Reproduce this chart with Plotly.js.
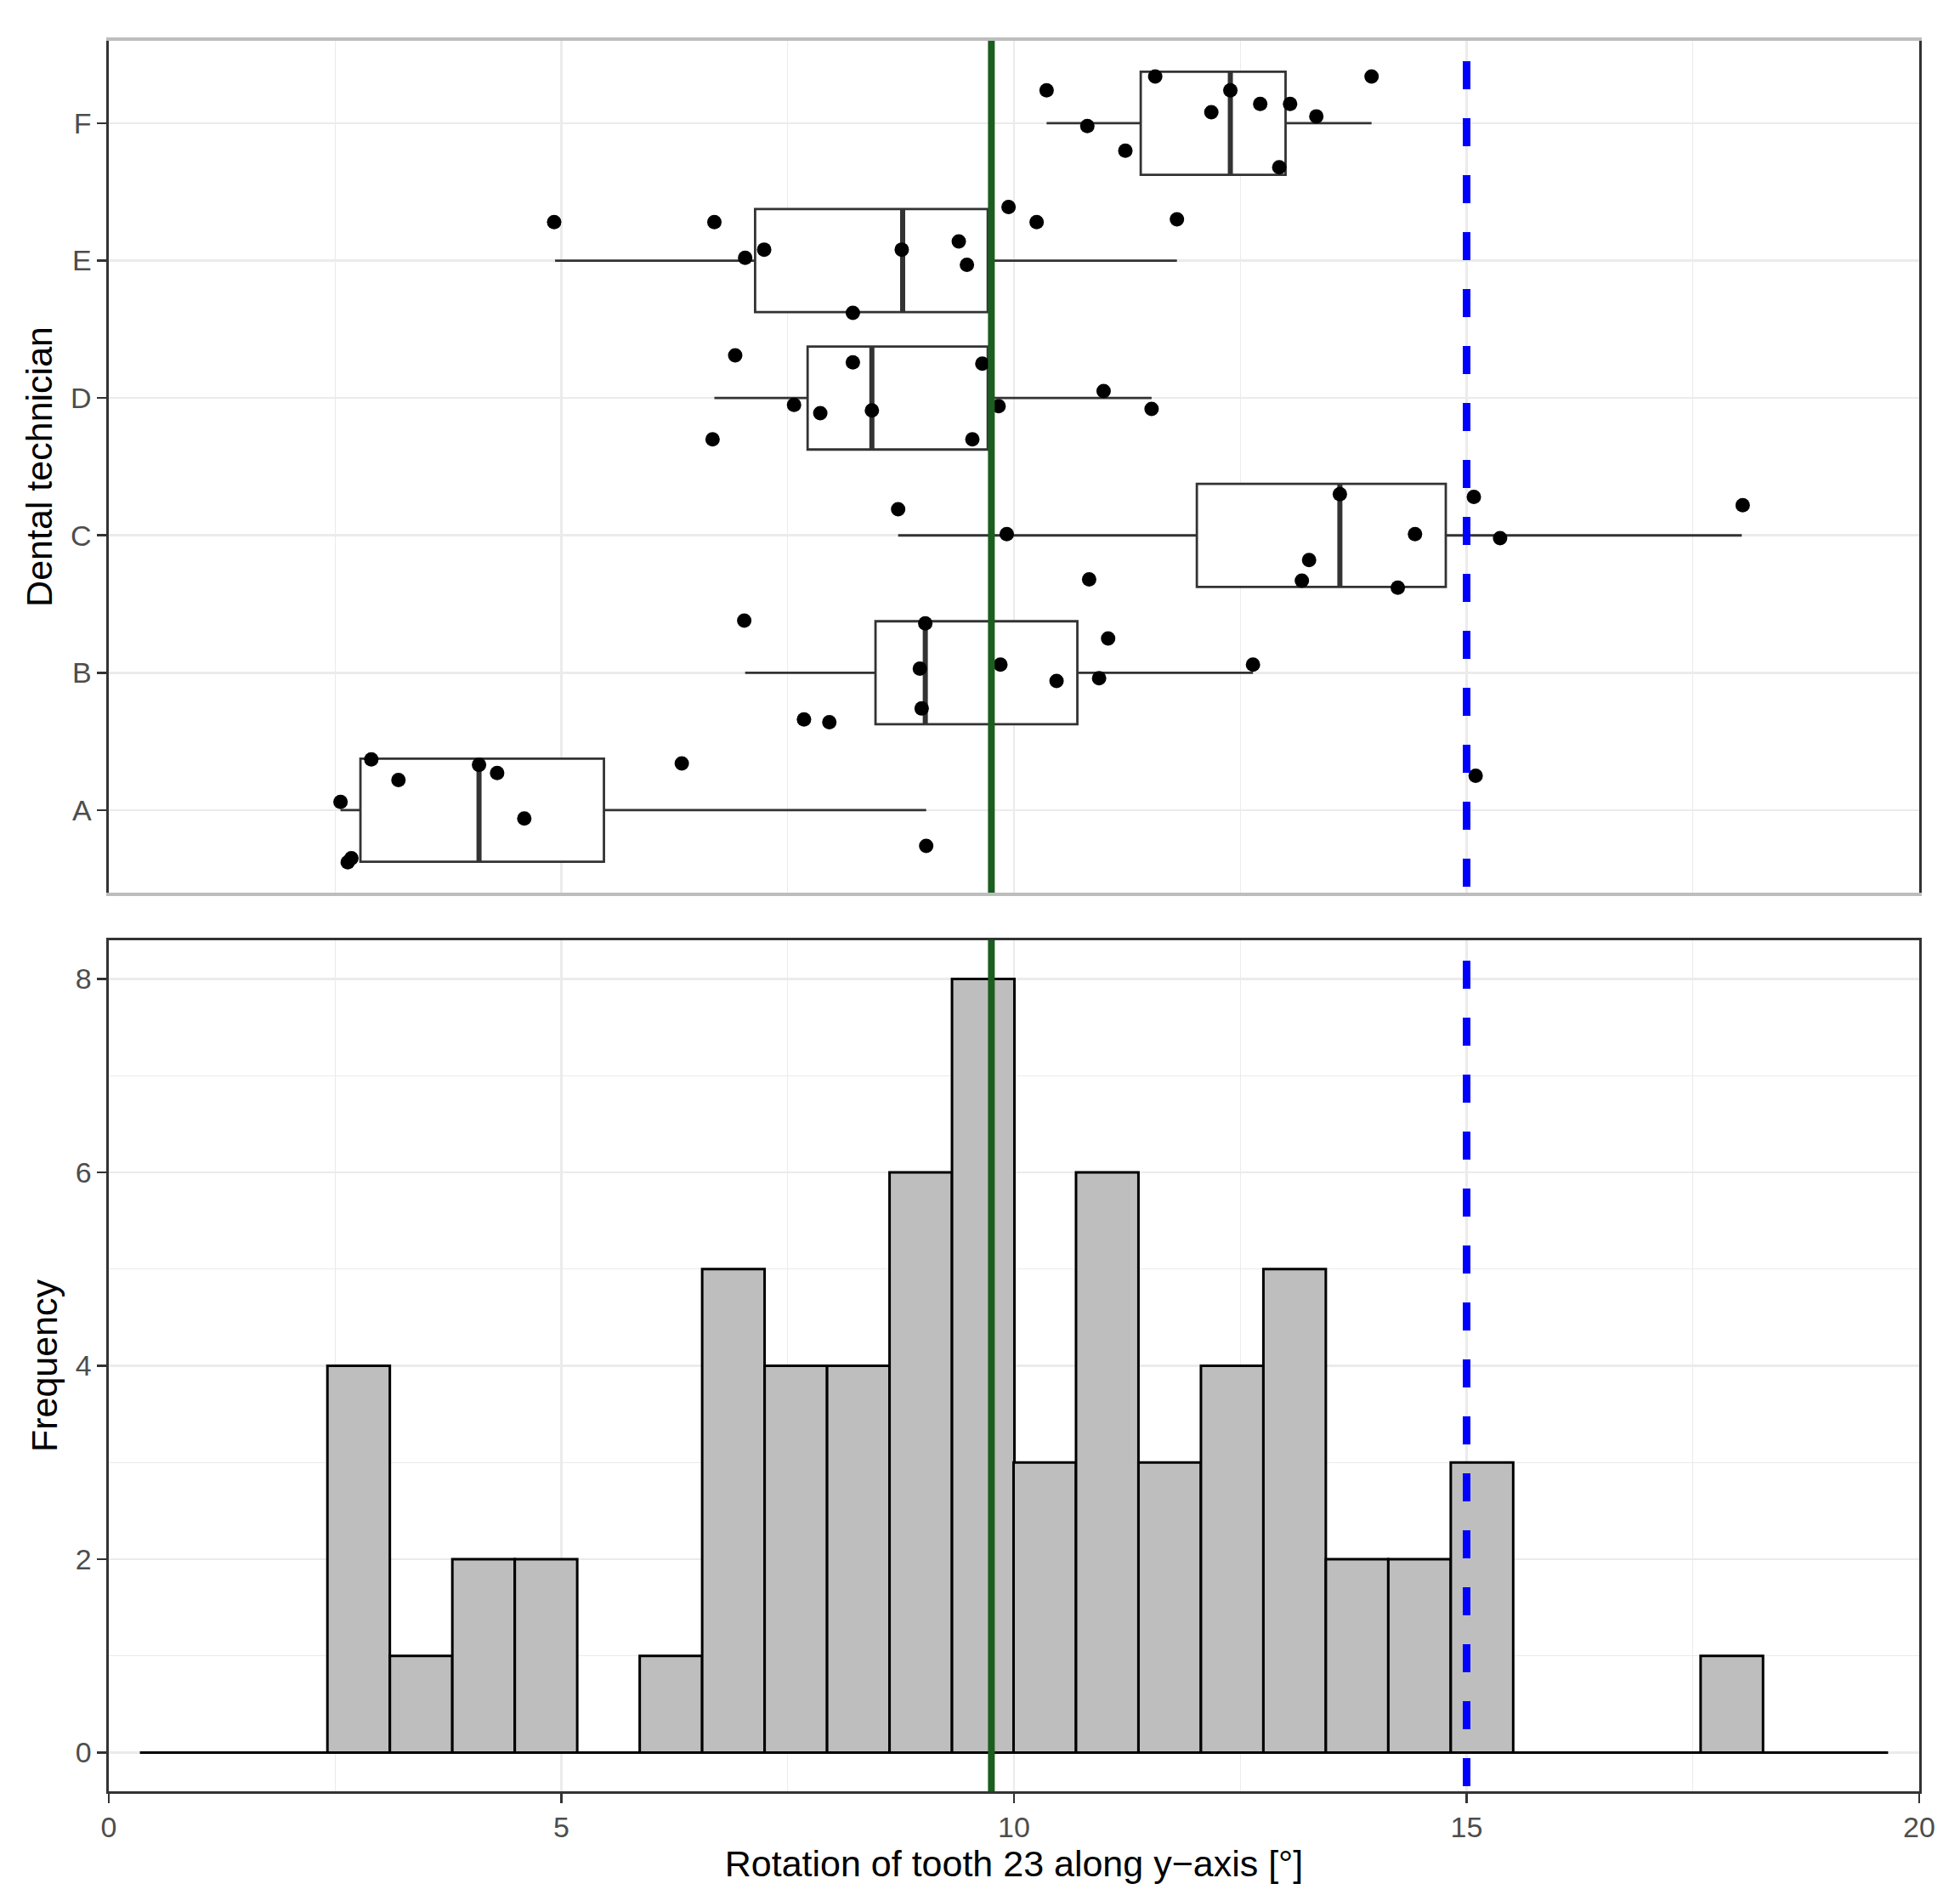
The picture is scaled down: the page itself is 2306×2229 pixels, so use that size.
<!DOCTYPE html>
<html>
<head>
<meta charset="utf-8">
<script src="https://cdn.plot.ly/plotly-3.0.1.min.js"></script>
<style>body{margin:0;background:#fff}</style>
</head>
<body>
<div id="plot" style="width:2306px;height:2229px"></div>
<script>
// technicians, bottom to top
let technicians = ["A", "B", "C", "D", "E", "F"]

// box statistics per technician
let lowerWhisker = [2.56, 7.03, 8.72, 6.69, 4.93, 10.36]
let q1 = [2.78, 8.47, 12.02, 7.72, 7.14, 11.40]
let medians = [4.09, 9.02, 13.60, 8.43, 8.77, 12.39]
let q3 = [5.47, 10.70, 14.77, 9.71, 9.71, 13.00]
let upperWhisker = [9.03, 12.64, 18.04, 11.52, 11.80, 13.95]

let rotA = [2.56, 2.64, 2.68, 2.90, 3.20, 4.09, 4.29, 4.59, 6.33, 9.03, 15.10]
let jitA = [0.06, -0.38, -0.35, 0.37, 0.22, 0.33, 0.27, -0.06, 0.34, -0.26, 0.25]
let rotB = [7.02, 7.68, 7.96, 8.96, 8.98, 9.02, 9.85, 10.47, 10.94, 11.04, 12.64]
let jitB = [0.38, -0.34, -0.36, 0.03, -0.26, 0.36, 0.06, -0.06, -0.04, 0.25, 0.06]
let rotC = [8.72, 9.92, 10.83, 13.18, 13.26, 13.60, 14.24, 14.43, 15.08, 15.37, 18.05]
let jitC = [0.19, 0.01, -0.32, -0.33, -0.18, 0.30, -0.38, 0.01, 0.28, -0.02, 0.22]
let rotD = [6.67, 6.92, 7.57, 7.86, 8.22, 8.43, 9.54, 9.65, 9.83, 10.99, 11.52]
let jitD = [-0.30, 0.31, -0.05, -0.11, 0.26, -0.09, -0.30, 0.25, -0.06, 0.05, -0.08]
let rotE = [4.92, 6.69, 7.03, 7.24, 8.22, 8.76, 9.39, 9.48, 9.94, 10.25, 11.80]
let jitE = [0.28, 0.28, 0.02, 0.08, -0.38, 0.08, 0.14, -0.03, 0.39, 0.28, 0.30]
let rotF = [10.36, 10.81, 11.23, 11.56, 12.18, 12.39, 12.72, 12.93, 13.05, 13.34, 13.95]
let jitF = [0.24, -0.02, -0.20, 0.34, 0.08, 0.24, 0.14, -0.32, 0.14, 0.05, 0.34]

// histogram bins (centres) and counts
let binCenters = [0.69, 1.38, 2.07, 2.76, 3.45, 4.14, 4.83, 5.52, 6.21, 6.90, 7.59, 8.28, 8.97, 9.66,
                  10.34, 11.03, 11.72, 12.41, 13.10, 13.79, 14.48, 15.17, 15.86, 16.55, 17.24, 17.93, 18.62, 19.31]
let binCounts = [0, 0, 0, 4, 1, 2, 2, 0, 1, 5, 4, 4, 6, 8, 3, 6, 3, 4, 5, 2, 2, 3, 0, 0, 0, 1, 0, 0]

// reference lines
let greenLine = 9.75
let blueLine = 15

function plot(){
    let font = "Liberation Sans, Arial, Helvetica, sans-serif"
    let binWidth = 20 / 29
    let boxWidth = 0.75
    let data = []

    data.push({
        type: "box",
        orientation: "h",
        y: [0, 1, 2, 3, 4, 5],
        q1: q1,
        median: medians,
        q3: q3,
        lowerfence: lowerWhisker,
        upperfence: upperWhisker,
        width: boxWidth,
        whiskerwidth: 0,
        fillcolor: "white",
        line: {color: "#333333", width: 2.8},
        boxpoints: false,
        xaxis: "x",
        yaxis: "y"
    })

    // thicker median bars like ggplot
    let mx = [], my = []
    for (let i = 0; i < medians.length; i++){
        mx.push(medians[i], medians[i], null)
        my.push(i - boxWidth/2, i + boxWidth/2, null)
    }
    data.push({
        type: "scatter", mode: "lines", x: mx, y: my,
        line: {color: "#333333", width: 6},
        xaxis: "x", yaxis: "y"
    })

    let rots = [rotA, rotB, rotC, rotD, rotE, rotF]
    let jits = [jitA, jitB, jitC, jitD, jitE, jitF]
    let px = [], py = []
    for (let i = 0; i < rots.length; i++){
        for (let j = 0; j < rots[i].length; j++){
            px.push(rots[i][j])
            py.push(i + jits[i][j])
        }
    }
    data.push({
        type: "scatter", mode: "markers", x: px, y: py,
        marker: {color: "black", size: 17},
        xaxis: "x", yaxis: "y"
    })

    data.push({
        type: "bar", x: binCenters, y: binCounts, width: binWidth,
        marker: {color: "#BEBEBE", line: {color: "black", width: 3}},
        xaxis: "x2", yaxis: "y2"
    })
    data.push({
        type: "scatter", mode: "lines",
        x: [binCenters[0] - binWidth/2, binCenters[binCenters.length - 1] + binWidth/2],
        y: [0, 0],
        line: {color: "black", width: 3},
        xaxis: "x2", yaxis: "y2"
    })

    let tickfont = {family: font, size: 34, color: "#4D4D4D"}
    let titlefont = {family: font, size: 43, color: "black"}
    let grid = {gridcolor: "#EBEBEB", gridwidth: 2.6}
    let minorx = {dtick: 2.5, showgrid: true, gridcolor: "#EBEBEB", gridwidth: 1.3}

    let shapes = []
    let panels = [["x", "y", -0.6, 5.6, 0.266], ["x2", "y2", -0.4, 8.4, 0.378]]
    for (let p of panels){
        shapes.push({
            type: "line", xref: p[0], yref: p[1], layer: "above",
            x0: greenLine, x1: greenLine, y0: p[3], y1: p[2],
            line: {color: "#1B5E20", width: 8}
        })
        shapes.push({
            type: "line", xref: p[0], yref: p[1], layer: "above",
            x0: blueLine, x1: blueLine, y0: p[3] + p[4], y1: p[2],
            line: {color: "#0000FF", width: 9, dash: "33px,34px"}
        })
    }

    let layout = {
        width: 2306,
        height: 2229,
        margin: {l: 128, r: 48, t: 48, b: 122},
        paper_bgcolor: "white",
        plot_bgcolor: "white",
        showlegend: false,
        hovermode: false,
        font: {family: font},
        xaxis: Object.assign({
            domain: [0, 1], anchor: "y", range: [0, 20], dtick: 5, tick0: 0,
            showticklabels: false, ticks: "", zeroline: false,
            showline: true, mirror: true, linecolor: "#BDBDBD", linewidth: 4,
            minor: minorx
        }, grid),
        yaxis: Object.assign({
            domain: [0.5134, 1], anchor: "x", range: [-0.6, 5.6],
            tickvals: [0, 1, 2, 3, 4, 5], ticktext: technicians,
            ticks: "outside", ticklen: 11, tickwidth: 2.6, tickcolor: "#333333",
            tickfont: tickfont, zeroline: false,
            showline: true, mirror: true, linecolor: "#333333", linewidth: 2.6,
            title: {text: "Dental technician", font: titlefont, standoff: 8}
        }, grid),
        xaxis2: Object.assign({
            domain: [0, 1], anchor: "y2", range: [0, 20], dtick: 5, tick0: 0,
            ticks: "outside", ticklen: 11, tickwidth: 2.6, tickcolor: "#333333",
            tickfont: tickfont, zeroline: false,
            showline: true, mirror: true, linecolor: "#333333", linewidth: 2.6,
            minor: minorx,
            title: {text: "Rotation of tooth 23 along y\u2212axis [°]", font: titlefont, standoff: 6}
        }, grid),
        yaxis2: Object.assign({
            domain: [0, 0.4862], anchor: "x2", range: [-0.4, 8.4], dtick: 2, tick0: 0,
            ticks: "outside", ticklen: 11, tickwidth: 2.6, tickcolor: "#333333",
            tickfont: tickfont, zeroline: false,
            showline: true, mirror: true, linecolor: "#333333", linewidth: 2.6,
            minor: {dtick: 1, showgrid: true, gridcolor: "#EBEBEB", gridwidth: 1.3},
            title: {text: "Frequency", font: titlefont, standoff: 8}
        }, grid),
        shapes: shapes
    }

    Plotly.newPlot("plot", data, layout, {staticPlot: true})
}

plot()
</script>
</body>
</html>
